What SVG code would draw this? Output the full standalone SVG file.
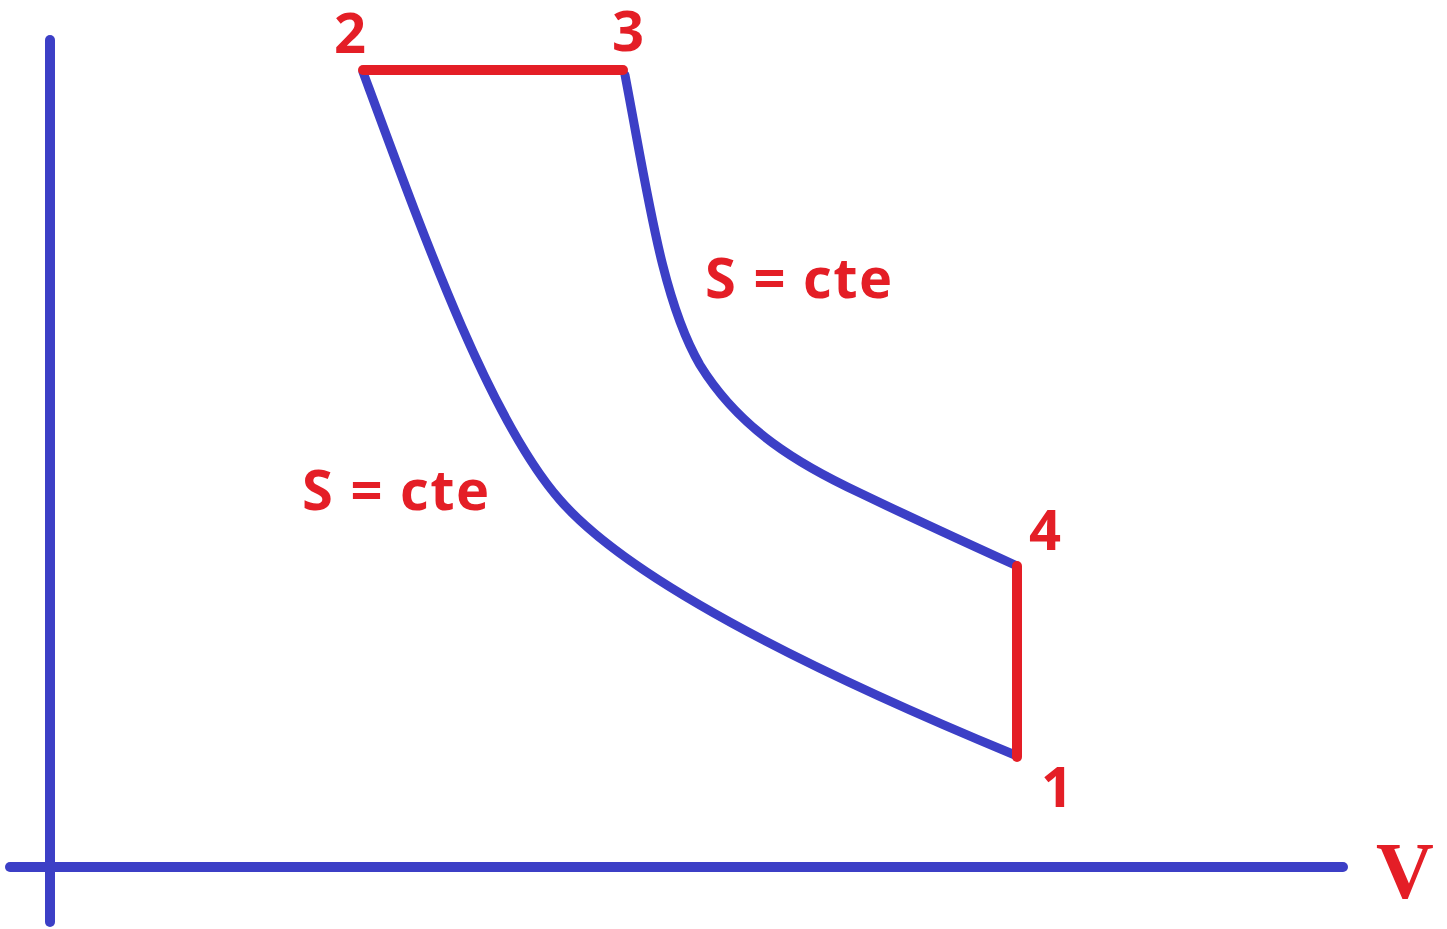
<svg xmlns="http://www.w3.org/2000/svg" width="1447" height="929" viewBox="0 0 1447 929">
<style>
.ax{stroke:#3c3fc6;stroke-width:10;fill:none;stroke-linecap:round}
.cv{stroke:#3c3fc6;stroke-width:9;fill:none;stroke-linecap:round}
.rd{stroke:#e41e26;stroke-width:10;fill:none;stroke-linecap:round}
.lb{font-family:"Open Sans","Liberation Sans",sans-serif;font-weight:700;font-size:56px;fill:#e41e26}
.st{letter-spacing:1.5px}
.vl{font-family:"Liberation Serif",serif;font-weight:700;font-size:80px;fill:#e41e26}
</style>
<rect width="1447" height="929" fill="#fff"/>
<g id="axes">
<line class="ax" x1="50" y1="40" x2="50" y2="922"/>
<line class="ax" x1="10" y1="867" x2="1343" y2="867"/>
<text class="vl" x="1405" y="898" text-anchor="middle">V</text>
</g>
<g id="connectors">
<path id="c21" class="cv" d="M363,72 C425,240 490,420 560,500 C600,546 700,625 1015,755"/>
<path id="c34" class="cv" d="M625,75 C648,195 662,300 700,365 C740,430 800,465 860,493 C910,517 960,540 1015,565"/>
<line id="c23" class="rd" x1="363" y1="70" x2="623" y2="70"/>
<line id="c41" class="rd" x1="1017" y1="566" x2="1017" y2="757"/>
</g>
<g id="n2"><text class="lb" x="350" y="53" text-anchor="middle">2</text></g>
<g id="n3"><text class="lb" x="628" y="51" text-anchor="middle">3</text></g>
<g id="n4"><text class="lb" x="1045" y="550" text-anchor="middle">4</text></g>
<g id="n1"><text class="lb" x="1057" y="807" text-anchor="middle">1</text></g>
<g id="s34"><text class="lb st" x="705" y="298">S = cte</text></g>
<g id="s21"><text class="lb st" x="302" y="510">S = cte</text></g>
</svg>
